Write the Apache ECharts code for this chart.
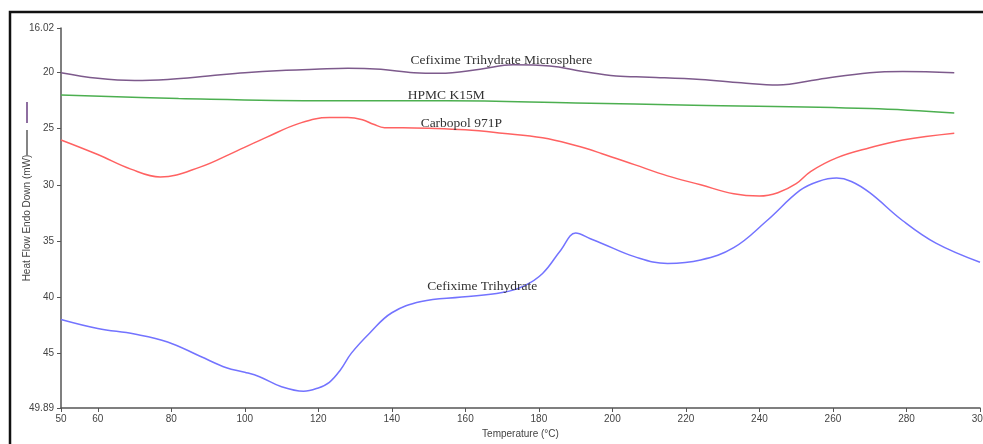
<!DOCTYPE html>
<html>
<head>
<meta charset="utf-8">
<script src="https://cdn.jsdelivr.net/npm/echarts@6/dist/echarts.min.js"></script>
<style>
  html, body { margin: 0; padding: 0; background: #fff; }
  #chart { width: 983px; height: 444px; }
</style>
</head>
<body>
<div id="chart"></div>
<script>
// tick labels
const xTicks = [50, 60, 80, 100, 120, 140, 160, 180, 200, 220, 240, 260, 280, 300];
const yTicks = [16.02, 20, 25, 30, 35, 40, 45, 49.89];

// Cefixime Trihydrate Microsphere (purple)
const microTemp = [50, 60, 70, 79, 90, 100, 110, 119, 128, 137, 146, 153, 164, 173, 183, 192, 201, 210, 224, 235, 245, 256, 270, 279, 293];
const microFlow = [20.0, 20.5, 20.7, 20.6, 20.3, 20.0, 19.8, 19.7, 19.6, 19.7, 20.0, 20.05, 19.7, 19.3, 19.4, 19.9, 20.3, 20.4, 20.6, 20.9, 21.1, 20.6, 20.0, 19.9, 20.0];

// HPMC K15M (green)
const hpmcTemp = [50, 82, 123, 155, 190, 222, 270, 293];
const hpmcFlow = [22.0, 22.3, 22.5, 22.5, 22.7, 22.9, 23.2, 23.6];

// Carbopol 971P (red)
const carboTemp = [50, 60, 69, 77, 88, 97, 106, 115, 123, 128, 132, 135, 138, 143, 150, 160, 170, 181, 190, 197, 206, 215, 224, 233, 240, 245, 250, 254, 261, 270, 279, 293];
const carboFlow = [26.0, 27.3, 28.6, 29.3, 28.4, 27.1, 25.75, 24.5, 24.0, 24.0, 24.2, 24.6, 24.9, 24.9, 24.95, 25.1, 25.4, 25.8, 26.5, 27.2, 28.2, 29.2, 30.0, 30.8, 31.0, 30.7, 29.9, 28.8, 27.6, 26.7, 26.0, 25.4];

// Cefixime Trihydrate (blue)
const cefTemp = [50, 60, 70, 79, 88, 95, 100, 104, 110, 116, 120, 123, 126, 129, 134, 140, 148, 159, 170, 176, 181, 186, 190, 194, 197, 206, 215, 224, 233, 242, 251, 256, 261, 265, 270, 279, 288, 300];
const cefFlow = [42.0, 42.8, 43.3, 44.0, 45.3, 46.3, 46.7, 47.1, 48.0, 48.4, 48.1, 47.6, 46.5, 45.0, 43.2, 41.4, 40.4, 40.0, 39.6, 39.0, 37.9, 35.8, 34.3, 34.8, 35.2, 36.4, 37.0, 36.7, 35.6, 33.2, 30.5, 29.7, 29.4, 29.7, 30.7, 33.2, 35.2, 36.9];

// curve names and where their labels sit (temperature, heat flow)
const curveNames = ["Cefixime Trihydrate Microsphere", "HPMC K15M", "Carbopol 971P", "Cefixime Trihydrate"];
const labelAt = [[169.8, 18.93], [154.8, 22.04], [158.9, 24.53], [164.6, 39.02]];

const pairs = (xs, ys) => xs.map((x, i) => [x, ys[i]]);

const axisColor = "#555";
const tickText = { color: "#444", fontSize: 10, fontFamily: "Liberation Sans, Arial, sans-serif" };

const makeSeries = (idx, xs, ys, color) => ({
  name: curveNames[idx],
  type: "line",
  data: pairs(xs, ys),
  smooth: 0.4,
  showSymbol: false,
  lineStyle: { color: color, width: 1.5 },
  markPoint: {
    symbol: "circle",
    symbolSize: 1,
    itemStyle: { color: "transparent" },
    label: {
      show: true,
      position: "inside",
      formatter: curveNames[idx],
      color: "#333",
      fontSize: 13.5,
      fontFamily: "Liberation Serif, Times New Roman, serif"
    },
    data: [{ coord: labelAt[idx] }]
  }
});

const chart = echarts.init(document.getElementById("chart"));
chart.setOption({
  animation: false,
  backgroundColor: "#fff",
  grid: { left: 61, right: 3, top: 28, bottom: 36, outerBoundsMode: "none" },
  xAxis: {
    type: "value",
    min: 50,
    max: 300,
    name: "Temperature (°C)",
    nameLocation: "middle",
    nameGap: 19,
    nameTextStyle: { color: "#444", fontSize: 10, fontFamily: "Liberation Sans, Arial, sans-serif" },
    axisLine: { show: true, lineStyle: { color: axisColor, width: 1.5 } },
    axisTick: { show: true, length: 4, customValues: xTicks, lineStyle: { color: axisColor } },
    axisLabel: { ...tickText, margin: 6, customValues: xTicks },
    splitLine: { show: false }
  },
  yAxis: {
    type: "value",
    inverse: true,
    min: 16.02,
    max: 49.89,
    name: "Heat Flow Endo Down (mW)",
    nameLocation: "middle",
    nameGap: 29,
    nameMoveOverlap: false,
    nameTextStyle: { color: "#444", fontSize: 10, fontFamily: "Liberation Sans, Arial, sans-serif" },
    axisLine: { show: true, lineStyle: { color: axisColor, width: 1.5 } },
    axisTick: { show: true, length: 4, customValues: yTicks, lineStyle: { color: axisColor } },
    axisLabel: { ...tickText, margin: 7, customValues: yTicks },
    splitLine: { show: false }
  },
  // outer frame and the little line keys beside the y axis title
  graphic: [
    { type: "rect", shape: { x: 10, y: 12, width: 1000, height: 460 }, style: { fill: "none", stroke: "#111", lineWidth: 2.5 }, silent: true },
    { type: "line", shape: { x1: 27, y1: 130, x2: 27, y2: 155 }, style: { stroke: "#333", lineWidth: 1.2 }, silent: true },
    { type: "line", shape: { x1: 27, y1: 102, x2: 27, y2: 123 }, style: { stroke: "#8e6ea0", lineWidth: 2 }, silent: true }
  ],
  series: [
    makeSeries(0, microTemp, microFlow, "#7d5a8c"),
    makeSeries(1, hpmcTemp, hpmcFlow, "#4caf50"),
    makeSeries(2, carboTemp, carboFlow, "#ff6262"),
    makeSeries(3, cefTemp, cefFlow, "#7373ff")
  ]
});
</script>
</body>
</html>
